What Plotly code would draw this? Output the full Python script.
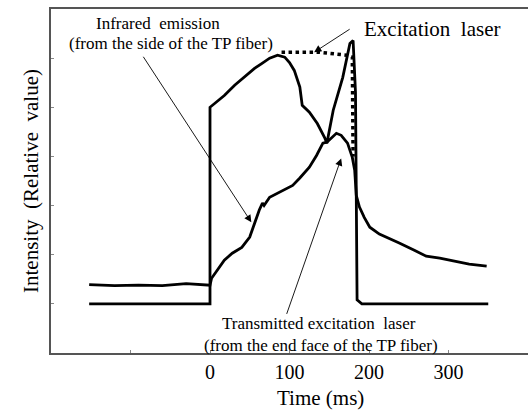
import plotly.graph_objects as go

# Time (ms) / relative intensity values
trans_t = [-152, 0, 0, 5.7, 18, 31, 43, 56, 65, 75, 85, 94, 100, 106, 113, 116, 125, 135, 144, 147,
           155, 167, 176, 180, 183, 184.5, 185, 191, 350]
trans_y = [1.0, 1.0, 5.0, 5.08, 5.24, 5.45, 5.61, 5.79, 5.89, 6.0, 6.06, 6.02, 5.91, 5.75, 5.41, 5.04,
           4.9, 4.67, 4.39, 4.27, 4.94, 5.61, 6.3, 6.36, 5.3, 3.1, 1.08, 1.0, 1.0]

ir_t = [-152, -120, -90, -60, -30, -10, 0, 2, 12, 18, 28, 40, 50, 56, 62, 66, 68, 75, 87, 104, 113,
        125, 134, 142, 147, 153, 159, 165, 173, 179, 182, 184, 188, 194, 201, 213, 222, 238, 257,
        272, 289, 301, 314, 326, 348]
ir_y = [1.39, 1.37, 1.38, 1.37, 1.41, 1.40, 1.38, 1.52, 1.75, 1.89, 2.03, 2.15, 2.36, 2.64, 2.91,
        3.05, 3.0, 3.17, 3.27, 3.41, 3.56, 3.78, 4.02, 4.27, 4.29, 4.39, 4.47, 4.43, 4.27, 3.98,
        3.72, 3.21, 2.97, 2.76, 2.56, 2.42, 2.36, 2.24, 2.09, 1.97, 1.93, 1.89, 1.85, 1.81, 1.77]

exc_t = [90, 138, 172, 179, 180]
exc_y = [6.12, 6.12, 6.06, 6.02, 4.0]

x_tickvals = [-100, 0, 100, 200, 300]
x_ticktext = ["", "0", "100", "200", "300"]
y_tickvals = [1, 2, 3, 4, 5, 6]

FONT = "Liberation Serif, Times New Roman, serif"
line_style = dict(color="black", width=2.8)

fig = go.Figure()
fig.add_trace(go.Scatter(x=trans_t, y=trans_y, mode="lines", line=line_style,
                         name="Transmitted excitation laser"))
fig.add_trace(go.Scatter(x=ir_t, y=ir_y, mode="lines", line=line_style,
                         name="Infrared emission"))
fig.add_trace(go.Scatter(x=exc_t, y=exc_y, mode="lines",
                         line=dict(color="black", width=3.5, dash="dot"),
                         name="Excitation laser"))

ann = []
tf = dict(family=FONT, size=17, color="black")
ann.append(dict(x=-66, y=6.71, xref="x", yref="y", text="Infrared\u00a0\u00a0emission",
                showarrow=False, font=tf))
ann.append(dict(x=-49, y=6.30, xref="x", yref="y", text="(from the side of the TP fiber)",
                showarrow=False, font=tf))
ann.append(dict(x=279, y=6.6, xref="x", yref="y", text="Excitation\u00a0\u00a0laser",
                showarrow=False, font=dict(family=FONT, size=21, color="black")))
ann.append(dict(x=137, y=0.61, xref="x", yref="y", text="Transmitted\u00a0excitation\u00a0\u00a0laser",
                showarrow=False, font=tf))
ann.append(dict(x=140, y=0.16, xref="x", yref="y", text="(from the end face of the TP fiber)",
                showarrow=False, font=tf))
# arrows
arr = dict(showarrow=True, arrowhead=2, arrowsize=1.6, arrowwidth=0.9, arrowcolor="black", text="",
           xref="x", yref="y", axref="pixel", ayref="pixel")
ann.append(dict(x=52, y=2.66, ax=-109, ay=-167, **arr))
ann.append(dict(x=165, y=3.96, ax=-55, ay=157, **arr))
ann.append(dict(x=131, y=6.12, ax=37, ay=-24, **arr))
# axis titles
ann.append(dict(x=0.564, y=-0.131, xref="paper", yref="paper", text="Time (ms)", showarrow=False,
                xanchor="center", yanchor="middle",
                font=dict(family=FONT, size=21, color="black")))
ann.append(dict(x=-0.042, y=0.5, xref="paper", yref="paper", text="Intensity\u00a0\u00a0(Relative\u00a0\u00a0value)",
                showarrow=False, textangle=-90, xanchor="center", yanchor="middle",
                font=dict(family=FONT, size=21, color="black")))

fig.update_layout(
    width=528, height=411,
    margin=dict(l=51, r=0, t=9, b=58),
    paper_bgcolor="white", plot_bgcolor="white",
    showlegend=False,
    annotations=ann,
    font=dict(family=FONT, color="black"),
)
fig.update_xaxes(range=[-200, 400], showgrid=False, zeroline=False,
                 showline=True, mirror=True, linecolor="#555555", linewidth=1.5,
                 ticks="inside", ticklen=3, tickcolor="#888888",
                 tickvals=x_tickvals, ticktext=x_ticktext,
                 tickfont=dict(family=FONT, size=20, color="black"))
fig.update_yaxes(range=[0, 7], showgrid=False, zeroline=False,
                 showline=True, mirror=False, linecolor="#555555", linewidth=1.5,
                 ticks="inside", ticklen=3, tickcolor="#888888",
                 tickvals=y_tickvals, showticklabels=False)

fig.write_html("out.html")
